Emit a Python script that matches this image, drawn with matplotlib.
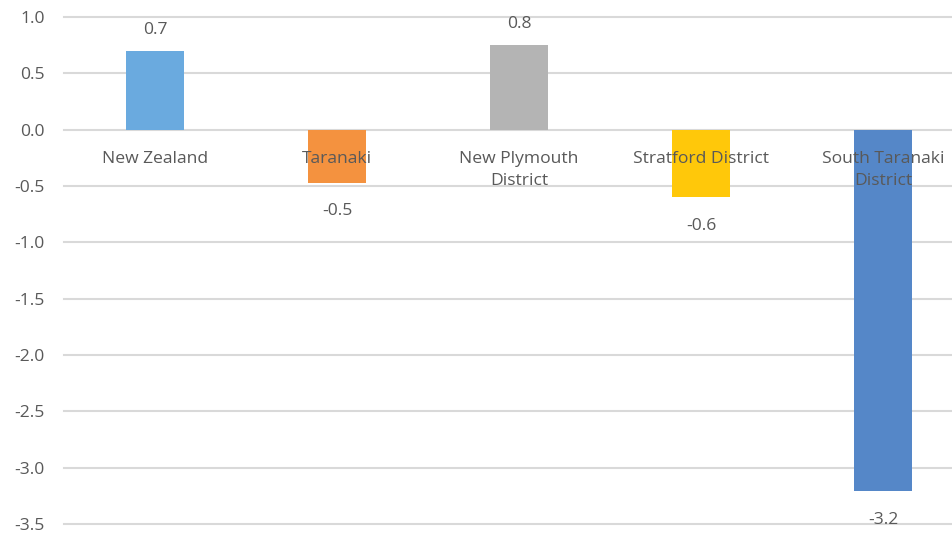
import matplotlib
matplotlib.use("Agg")
import matplotlib.pyplot as plt

categories = ["New Zealand", "Taranaki", "New Plymouth\nDistrict",
              "Stratford District", "South Taranaki\nDistrict"]
values = [0.70, -0.47, 0.755, -0.60, -3.21]
colors = ["#6aaadf", "#f4923f", "#b4b4b4", "#ffc80a", "#5587c8"]
yticks = [1.0, 0.5, 0.0, -0.5, -1.0, -1.5, -2.0, -2.5, -3.0, -3.5]

plt.rcParams["font.family"] = ["Open Sans", "DejaVu Sans"]
text_color = "#595959"
fs = 12.6

fig = plt.figure(figsize=(9.53, 5.36), dpi=100)
# plot area runs past the right edge of the picture, as in the reference
ax = fig.add_axes([64 / 953, 12 / 536, 910 / 953, 507 / 536])

x = list(range(len(categories)))
ax.bar(x, values, width=0.32, color=colors, zorder=2)

ax.set_xlim(-0.5, len(categories) - 0.5)
ax.set_ylim(-3.5, 1.0)
ax.set_yticks(yticks)
ax.set_yticklabels([f"{t:.1f}" for t in yticks])
ax.tick_params(axis="y", length=0, pad=14, labelsize=fs, labelcolor=text_color)
ax.set_xticks([])

for t in yticks:
    ax.axhline(t, color="#d9d9d9", lw=1.5, zorder=0, clip_on=False)

for s in ax.spines.values():
    s.set_visible(False)

# category labels sit just under the zero line, on top of the bars
for i, name in enumerate(categories):
    ax.annotate(name, xy=(i, 0), xytext=(0, -15), textcoords="offset points",
                ha="center", va="top", fontsize=fs, color=text_color,
                linespacing=1.55, zorder=5)

# value labels
for i, v in enumerate(values):
    off = 15 if v >= 0 else -20.5
    ax.annotate(f"{v:.1f}", xy=(i, v), xytext=(0, off), textcoords="offset points",
                ha="center", va="center", fontsize=fs, color=text_color, zorder=5)

fig.savefig("out.png", dpi=100)
